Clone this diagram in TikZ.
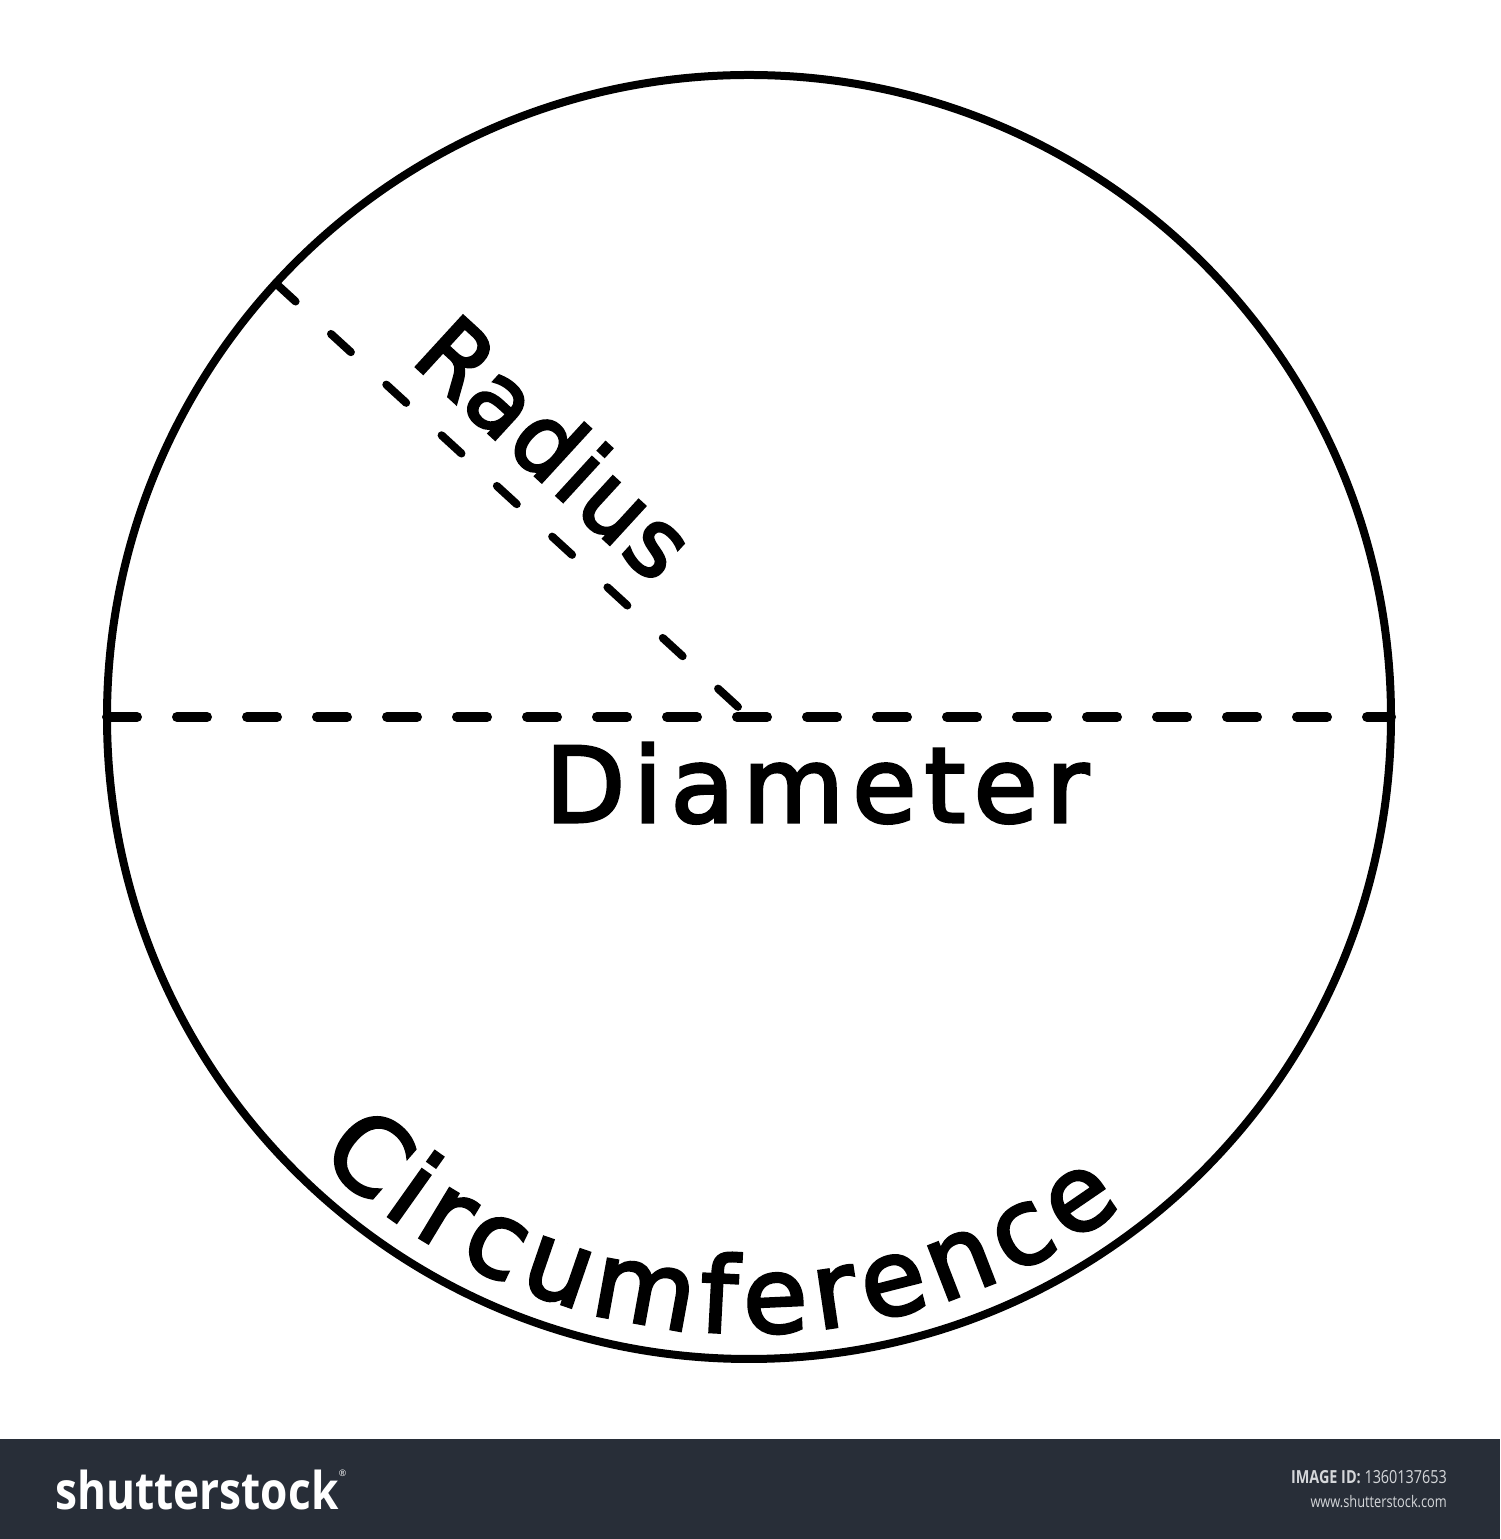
\documentclass[tikz,border=0pt]{standalone}
\usepackage{fontspec}
\setmainfont{DejaVu Sans}
\newfontfamily\handwide[FakeBold=3,LetterSpace=8]{DejaVu Sans}
\newfontfamily\handtight[FakeBold=3,LetterSpace=3]{DejaVu Sans}
\newfontfamily\handplain[FakeBold=3]{DejaVu Sans}
\newfontfamily\bannerfont{Open Sans}
\usetikzlibrary{calc}
\definecolor{bannerbg}{HTML}{282E38}
\definecolor{bannertext}{HTML}{D5D7DA}
\begin{document}
\begin{tikzpicture}[x=1pt,y=1pt,
  rim/.style={line width=8pt},
  diadash/.style={line width=10pt, line cap=round, dash pattern=on 30pt off 40pt},
  raddash/.style={line width=8pt, line cap=round, dash pattern=on 27pt off 48pt},
  lbl/.style={inner sep=0pt},
  circchar/.style={inner sep=0pt, anchor=base, font=\handplain\fontsize{105}{115}\selectfont}]
\fill[white] (0,0) rectangle (1500,1539);
\useasboundingbox (0,0) rectangle (1500,1539);
\coordinate (c) at (749,822);
\coordinate (dl) at (107,822);
\coordinate (dr) at (1391,822);
\coordinate (rs) at ($(c)+(137.5:642)$);
% circle
\draw[rim] (c) circle[radius=642];
% diameter
\draw[diadash] (dl) -- (dr);
% radius
\draw[raddash] (rs) -- (c);
% labels
\node[lbl, rotate=-42.5, font=\handtight\fontsize{95}{105}\selectfont] (rad) at (556,1092) {Radius};
\node[lbl, anchor=base, font=\handwide\fontsize{104}{114}\selectfont] (dia) at (817,717) {Diameter};
% Circumference, letter by letter along the rim
\foreach \ch/\ang [count=\k] in {C/-130.96, i/-125.35, r/-121.15, c/-115.61, u/-109.0, m/-100.3,
    f/-92.99, e/-87.43, r/-81.58, e/-75.73, n/-68.79, c/-62.16, e/-55.64}
  \node[circchar, rotate=\ang+90] (circ\k) at ($(c)+(\ang:616)$) {\ch};
% banner
\fill[bannerbg] (0,0) rectangle (1500,100);
\node[lbl, anchor=base west, text=white, xscale=0.85,
  font=\bannerfont\bfseries\fontsize{52}{60}\selectfont] (logo) at (55,29) {shutterstock};
\node[lbl, anchor=base west, text=white, font=\bannerfont\fontsize{9}{10}\selectfont] (reg) at (logo.east |- 0,62) {®};
\node[lbl, anchor=base east, text=bannertext, xscale=0.8,
  font=\bannerfont\fontsize{18}{20}\selectfont] (imgid) at (1447,55) {\textbf{IMAGE ID:} 1360137653};
\node[lbl, anchor=base east, text=bannertext, xscale=0.8,
  font=\bannerfont\fontsize{16}{18}\selectfont] (www) at (1447,31) {www.shutterstock.com};
\end{tikzpicture}
\end{document}
